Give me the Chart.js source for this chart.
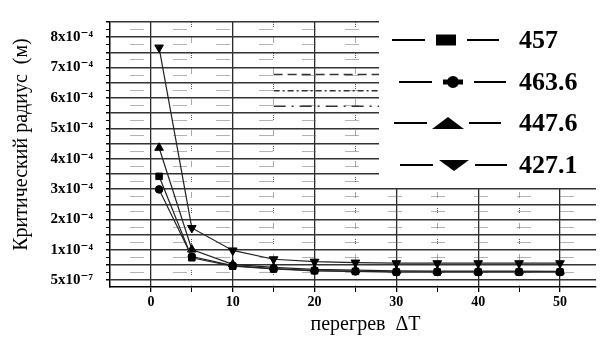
<!DOCTYPE html>
<html><head><meta charset="utf-8">
<script src="https://cdn.jsdelivr.net/npm/chart.js@4.4.1/dist/chart.umd.min.js"></script>
<style>html,body{margin:0;padding:0;background:#fff}#wrap{width:602px;height:347px}</style>
</head><body><div id="wrap"><canvas id="c" width="602" height="347"></canvas></div>
<script>
// ---- data ----
const overheat = [1, 5, 10, 15, 20, 25, 30, 35, 40, 45, 50];
const seriesLabels = ['457', '463.6', '447.6', '427.1'];
const radius457   = [3.42e-4, 0.74e-4, 0.46e-4, 0.37e-4, 0.31e-4, 0.29e-4, 0.27e-4, 0.27e-4, 0.27e-4, 0.27e-4, 0.27e-4];
const radius463_6 = [2.99e-4, 0.78e-4, 0.48e-4, 0.38e-4, 0.32e-4, 0.29e-4, 0.27e-4, 0.27e-4, 0.27e-4, 0.27e-4, 0.27e-4];
const radius447_6 = [4.36e-4, 1.01e-4, 0.52e-4, 0.42e-4, 0.36e-4, 0.33e-4, 0.31e-4, 0.30e-4, 0.30e-4, 0.30e-4, 0.29e-4];
const radius427_1 = [7.66e-4, 1.72e-4, 0.98e-4, 0.69e-4, 0.61e-4, 0.58e-4, 0.56e-4, 0.56e-4, 0.56e-4, 0.56e-4, 0.56e-4];
// leftover dashed line fragments visible in the picture
const fragmentX = [15, 30];
const fragmentA = [6.77e-4, 6.77e-4];
const fragmentB = [6.24e-4, 6.24e-4];
const fragmentC = [5.73e-4, 5.73e-4];
const xTickValues = [0, 10, 20, 30, 40, 50];
const xTickLabels = ['0', '10', '20', '30', '40', '50'];
const yTickValues = [0, 1e-4, 2e-4, 3e-4, 4e-4, 5e-4, 6e-4, 7e-4, 8e-4];
const yTickLabels = ['5x10\u207B\u2077', '1x10\u207B\u2074', '2x10\u207B\u2074', '3x10\u207B\u2074', '4x10\u207B\u2074',
                     '5x10\u207B\u2074', '6x10\u207B\u2074', '7x10\u207B\u2074', '8x10\u207B\u2074'];
const yTitle = 'Критический радиус  (м)';
const xTitle = 'перегрев  ΔT';

const SERIF = "'Liberation Serif', 'Times New Roman', 'DejaVu Serif', serif";
const pts = (ys, xs) => (xs || overheat).map((x, i) => ({x, y: ys[i]}));

function seriesDs(label, ys, style, rot, r) {
  return {label, data: pts(ys), borderColor: '#222', borderWidth: 1.2, tension: 0,
    pointStyle: style, pointRotation: rot, pointRadius: r, pointHoverRadius: r,
    pointBackgroundColor: '#000', pointBorderColor: '#000', pointBorderWidth: 1, fill: false};
}
function fragDs(ys, dash) {
  return {label: '', data: pts(ys, fragmentX), borderColor: '#333', borderWidth: 1.5,
    borderDash: dash, pointRadius: 0, fill: false, isFragment: true};
}

const boxLegend = {
  id: 'boxLegend',
  afterDatasetsDraw(chart) {
    const ctx = chart.ctx;
    ctx.save();
    ctx.fillStyle = '#fff';
    ctx.fillRect(379, 20, 218, 168);
    const rowsY = [40, 82, 123, 165];
    const dxs = [0, 7, 2, 8];
    const items = chart.data.datasets.filter(d => !d.isFragment);
    items.forEach((d, i) => {
      const y = rowsY[i], dx = dxs[i];
      ctx.strokeStyle = '#000'; ctx.lineWidth = 2; ctx.setLineDash([]);
      ctx.beginPath();
      ctx.moveTo(392 + dx, y); ctx.lineTo(425 + dx, y);
      ctx.moveTo(467 + dx, y); ctx.lineTo(499 + dx, y);
      ctx.stroke();
      const cx = 446 + dx;
      ctx.fillStyle = '#000';
      ctx.beginPath();
      if (d.pointStyle === 'rect') {
        ctx.rect(cx - 10, y - 5.5, 20, 11);
      } else if (d.pointStyle === 'circle') {
        ctx.arc(cx, y, 6, 0, Math.PI * 2);
        ctx.rect(cx - 10, y - 2.5, 20, 5);
      } else if (d.pointRotation === 180) {
        ctx.moveTo(cx - 15, y - 5); ctx.lineTo(cx + 15, y - 5); ctx.lineTo(cx, y + 6); ctx.closePath();
      } else {
        ctx.moveTo(cx - 16, y + 6); ctx.lineTo(cx + 16, y + 6); ctx.lineTo(cx, y - 6); ctx.closePath();
      }
      ctx.fill();
      ctx.font = 'bold 26px ' + SERIF;
      ctx.textBaseline = 'middle'; ctx.textAlign = 'left';
      ctx.fillText(d.label, 519, y + 1);
    });
    ctx.restore();
  }
};

const isMultiple = (v, step) => Math.abs(v / step - Math.round(v / step)) < 1e-6;

new Chart(document.getElementById('c'), {
  type: 'line',
  data: {
    datasets: [
      seriesDs(seriesLabels[0], radius457, 'rect', 0, 4.6),
      seriesDs(seriesLabels[1], radius463_6, 'circle', 0, 3.8),
      seriesDs(seriesLabels[2], radius447_6, 'triangle', 0, 5),
      seriesDs(seriesLabels[3], radius427_1, 'triangle', 180, 5),
      fragDs(fragmentA, [9, 5]),
      fragDs(fragmentB, [6, 3, 2, 3]),
      fragDs(fragmentC, [12, 6, 2, 6])
    ]
  },
  options: {
    responsive: false, animation: false, devicePixelRatio: 1,
    layout: {padding: {top: 13, right: 2.5, left: 0, bottom: 0}},
    plugins: {legend: {display: false}, tooltip: {enabled: false}},
    scales: {
      x: {
        type: 'linear', min: -5, max: 54.4,
        afterBuildTicks: s => { const t = []; for (let v = 0; v <= 50; v += 5) t.push({value: v}); s.ticks = t; },
        afterFit: s => { s.height = 60; },
        ticks: {
          autoSkip: false, maxRotation: 0, padding: 2, color: '#000',
          font: {family: SERIF, size: 14, weight: 'bold'},
          callback: v => { const i = xTickValues.indexOf(v); return i >= 0 ? xTickLabels[i] : ''; }
        },
        grid: {
          color: c => (c.tick && isMultiple(c.tick.value, 10)) ? '#2a2a2a' : '#555',
          lineWidth: c => (c.tick && isMultiple(c.tick.value, 10)) ? 1.3 : 1,
          tickLength: 5, tickColor: '#000'
        },
        border: {display: true, color: '#000', width: 1.5,
          dash: c => (c.tick && !isMultiple(c.tick.value, 10)) ? [1, 1, 1, 1, 1, 10.5] : []},
        title: {display: true, text: '\u00A0\u00A0\u00A0\u00A0\u00A0' + xTitle, color: '#000',
          font: {family: SERIF, size: 20}, padding: {top: 0, bottom: 10}}
      },
      y: {
        type: 'linear', min: -0.223e-4, max: 8.5e-4,
        afterBuildTicks: s => { const t = []; for (let k = 0; k <= 34; k++) t.push({value: k * 0.25e-4}); s.ticks = t; },
        afterFit: s => { s.width = 110; },
        ticks: {
          autoSkip: false, padding: 13, color: '#000',
          font: {family: SERIF, size: 15, weight: 'bold'},
          callback: v => { const i = yTickValues.findIndex(t => Math.abs(t - v) < 1e-9); return i >= 0 ? yTickLabels[i] : ''; }
        },
        grid: {
          color: c => (c.tick && isMultiple(c.tick.value, 0.5e-4)) ? '#333' : '#666',
          lineWidth: c => (c.tick && isMultiple(c.tick.value, 0.5e-4)) ? 1.5 : 1,
          tickLength: 4, tickColor: '#000'
        },
        border: {display: true, color: '#000', width: 1.5,
          dash: c => (c.tick && !isMultiple(c.tick.value, 0.5e-4)) ? [1,1,1,1,1,1,1,1,1,1,1,1,1,30] : [],
          dashOffset: 23},
        title: {display: true, text: '\u00A0\u00A0\u00A0\u00A0' + yTitle, color: '#000',
          font: {family: SERIF, size: 20}, padding: {top: 10, bottom: 0}}
      }
    }
  },
  plugins: [boxLegend]
});
</script></body></html>
